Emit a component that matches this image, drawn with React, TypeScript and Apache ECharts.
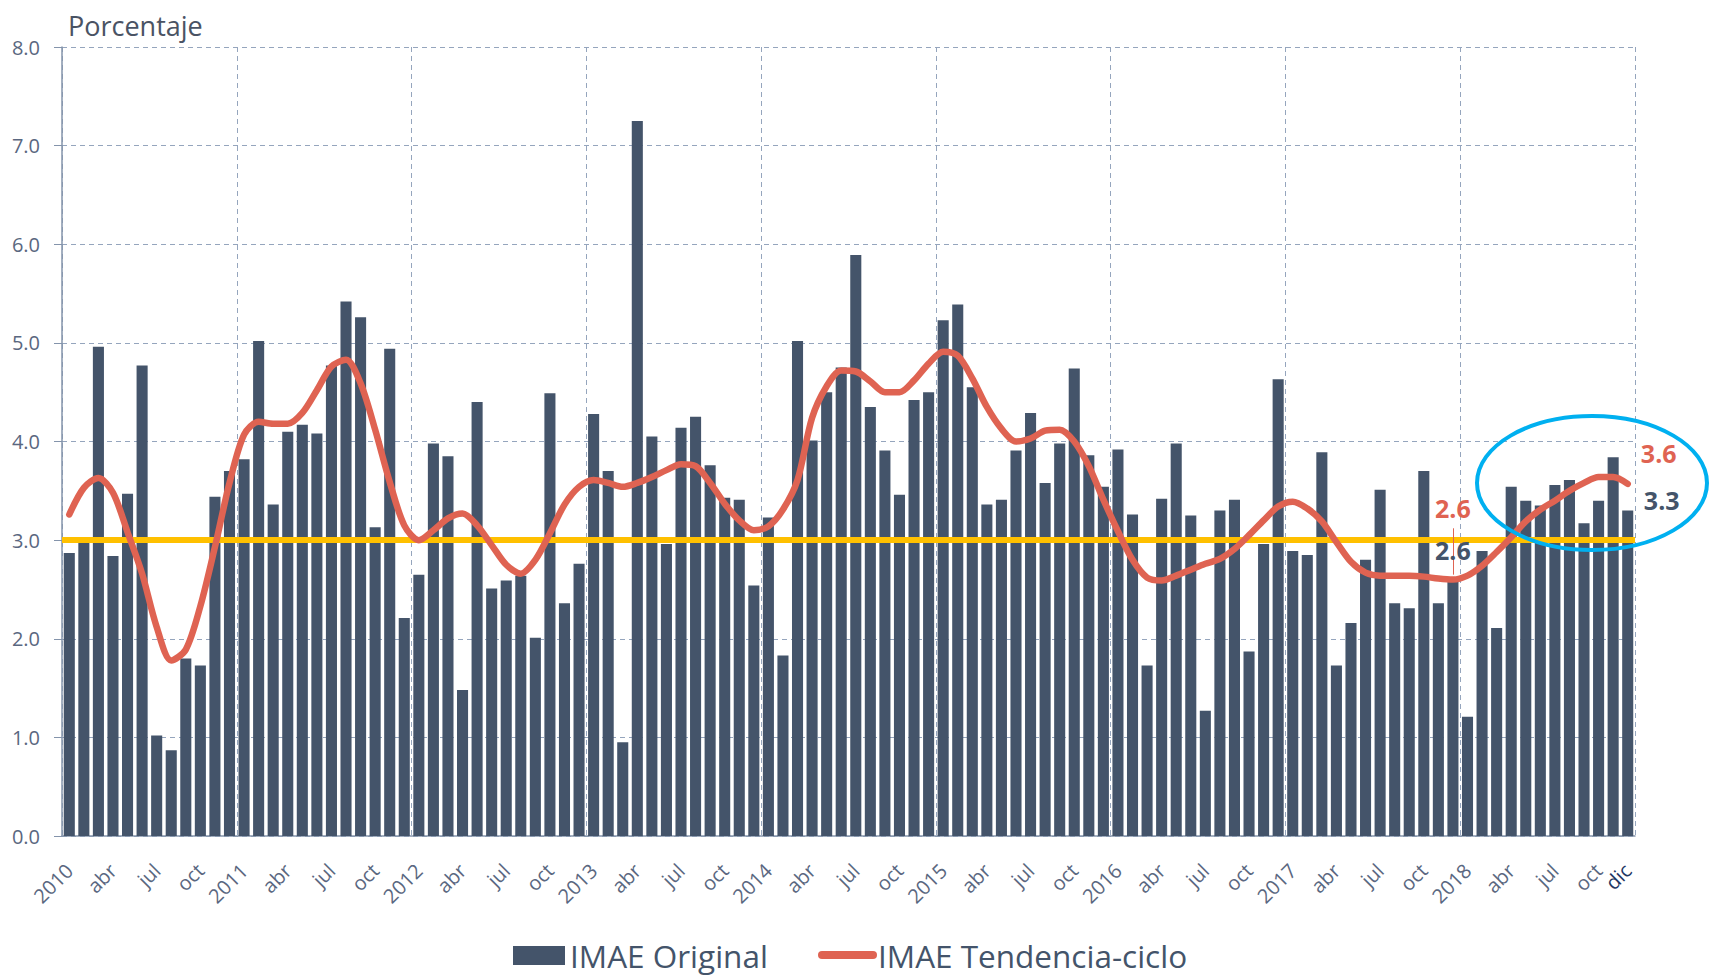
import React, { useEffect, useRef } from 'react';
import * as echarts from 'echarts';

const years = [2010, 2011, 2012, 2013, 2014, 2015, 2016, 2017, 2018];
const monthAbbr = ['ene', 'feb', 'mar', 'abr', 'may', 'jun', 'jul', 'ago', 'sep', 'oct', 'nov', 'dic'];

// IMAE Original (variación interanual, %)
const imaeOriginal = [
  2.87, 3.02, 4.96, 2.84, 3.47, 4.77, 1.02, 0.87, 1.80, 1.73, 3.44, 3.70,
  3.82, 5.02, 3.36, 4.10, 4.17, 4.08, 4.77, 5.42, 5.26, 3.13, 4.94, 2.21,
  2.65, 3.98, 3.85, 1.48, 4.40, 2.51, 2.59, 2.64, 2.01, 4.49, 2.36, 2.76,
  4.28, 3.70, 0.95, 7.25, 4.05, 2.96, 4.14, 4.25, 3.76, 3.43, 3.41, 2.54,
  3.23, 1.83, 5.02, 4.01, 4.50, 4.75, 5.89, 4.35, 3.91, 3.46, 4.42, 4.50,
  5.23, 5.39, 4.55, 3.36, 3.41, 3.91, 4.29, 3.58, 3.98, 4.74, 3.86, 3.54,
  3.92, 3.26, 1.73, 3.42, 3.98, 3.25, 1.27, 3.30, 3.41, 1.87, 2.96, 4.63,
  2.89, 2.85, 3.89, 1.73, 2.16, 2.80, 3.51, 2.36, 2.31, 3.70, 2.36, 2.60,
  1.21, 2.89, 2.11, 3.54, 3.40, 3.35, 3.56, 3.61, 3.17, 3.40, 3.84, 3.30,
];

// IMAE Tendencia-ciclo (%)
const imaeTendencia = [
  3.26, 3.53, 3.63, 3.48, 3.08, 2.66, 2.12, 1.78, 1.89, 2.33, 2.93, 3.58,
  4.07, 4.20, 4.18, 4.18, 4.29, 4.52, 4.76, 4.83, 4.59, 4.12, 3.59, 3.15,
  3.00, 3.10, 3.22, 3.27, 3.15, 2.95, 2.75, 2.66, 2.80, 3.07, 3.36, 3.54,
  3.61, 3.58, 3.54, 3.58, 3.64, 3.71, 3.77, 3.75, 3.58, 3.37, 3.20, 3.10,
  3.14, 3.31, 3.61, 4.24, 4.56, 4.72, 4.71, 4.61, 4.50, 4.50, 4.62, 4.79,
  4.91, 4.87, 4.64, 4.35, 4.13, 4.00, 4.03, 4.11, 4.12, 4.00, 3.75, 3.41,
  3.09, 2.80, 2.62, 2.59, 2.64, 2.70, 2.76, 2.81, 2.91, 3.05, 3.20, 3.34,
  3.39, 3.32, 3.19, 2.98, 2.78, 2.67, 2.64, 2.64, 2.64, 2.63, 2.61, 2.60,
  2.64, 2.74, 2.88, 3.03, 3.19, 3.31, 3.40, 3.50, 3.58, 3.64, 3.64, 3.57,
];

const referenceLevel = [3.0];

const categories = years.flatMap((y) => monthAbbr.map((_, m) => `${y}-${String(m + 1).padStart(2, '0')}`));
const lastIdx = categories.length - 1;
const annotIdx = 95; // dic 2017

const FONT = "'Open Sans', 'Noto Sans', sans-serif";
const BAR = '#44546a';
const RED = '#df6352';
const AXIS = '#8494ab';
const GRIDC = '#95a5bd';
const LABEL = '#5a6780';

const catLabel = (v: string) => {
  const [y, m] = v.split('-');
  const mi = parseInt(m, 10) - 1;
  return mi === 0 ? y : monthAbbr[mi];
};

const option: any = {
  animation: false,
  backgroundColor: '#ffffff',
  textStyle: { fontFamily: FONT },
  grid: { left: 62, right: 75, top: 47, bottom: 144, containLabel: false },
  xAxis: [
    {
      type: 'category',
      data: categories,
      boundaryGap: true,
      axisLine: { lineStyle: { color: AXIS, width: 1.5 } },
      axisTick: { show: false },
      splitLine: { show: false },
      axisLabel: {
        interval: (i: number) => i % 3 === 0 || i === lastIdx,
        rotate: 45,
        margin: 31,
        color: LABEL,
        fontSize: 20,
        fontFamily: FONT,
        formatter: (v: string, i: number) => (i === lastIdx ? `{d|${catLabel(v)}}` : catLabel(v)),
        rich: { d: { color: '#1f3864', fontSize: 20, fontFamily: FONT } },
      },
    },
    {
      type: 'value',
      min: 0,
      max: categories.length,
      interval: 12,
      position: 'bottom',
      axisLine: { show: false },
      axisTick: { show: false },
      axisLabel: { show: false },
      splitLine: { show: true, lineStyle: { type: [5, 4], color: GRIDC, width: 1 } },
    },
  ],
  yAxis: {
    type: 'value',
    min: 0,
    max: 8,
    interval: 1,
    axisLine: { show: true, lineStyle: { color: AXIS, width: 1.5 } },
    axisTick: { show: true, length: 8, lineStyle: { color: AXIS } },
    axisLabel: { formatter: (v: number) => v.toFixed(1), color: LABEL, fontSize: 20, margin: 22, fontFamily: FONT },
    splitLine: { show: true, lineStyle: { type: [5, 4], color: GRIDC, width: 1 } },
  },
  series: [
    {
      type: 'bar',
      name: 'IMAE Original',
      data: imaeOriginal,
      xAxisIndex: 0,
      barCategoryGap: '24%',
      itemStyle: { color: BAR },
      z: 2,
      markLine: {
        silent: true,
        symbol: 'none',
        z: 3,
        label: { show: false },
        lineStyle: { color: '#ffc000', width: 6, type: 'solid' },
        data: referenceLevel.map((v) => ({ yAxis: v })),
      },
      markPoint: {
        symbol: 'circle',
        symbolSize: 0,
        z: 20,
        data: [
          {
            coord: [annotIdx, imaeOriginal[annotIdx]],
            value: imaeOriginal[annotIdx].toFixed(1),
            label: { show: true, formatter: (p: any) => p.value, color: BAR, fontSize: 25, fontWeight: 'bold', fontFamily: FONT, offset: [0, -30] },
          },
          {
            coord: [lastIdx, imaeOriginal[lastIdx]],
            value: imaeOriginal[lastIdx].toFixed(1),
            label: { show: true, formatter: (p: any) => p.value, color: BAR, fontSize: 25, fontWeight: 'bold', fontFamily: FONT, offset: [34, -11] },
          },
        ],
      },
    },
    {
      type: 'line',
      name: 'IMAE Tendencia-ciclo',
      data: imaeTendencia,
      xAxisIndex: 0,
      smooth: 0.3,
      symbol: 'none',
      showSymbol: false,
      lineStyle: { color: RED, width: 6.5, cap: 'round', join: 'round' },
      itemStyle: { color: RED },
      z: 10,
      markLine: {
        silent: true,
        symbol: 'none',
        z: 11,
        label: { show: false },
        lineStyle: { color: RED, width: 1, type: 'solid' },
        data: [[
          { coord: [annotIdx, imaeTendencia[annotIdx] + 0.05] },
          { coord: [annotIdx, imaeTendencia[annotIdx] + 0.52] },
        ]],
      },
      markPoint: {
        symbol: 'circle',
        symbolSize: 0,
        z: 20,
        data: [
          {
            coord: [annotIdx, imaeTendencia[annotIdx]],
            value: imaeTendencia[annotIdx].toFixed(1),
            label: { show: true, formatter: (p: any) => p.value, color: RED, fontSize: 25, fontWeight: 'bold', fontFamily: FONT, offset: [0, -72] },
          },
          {
            coord: [lastIdx, imaeTendencia[lastIdx]],
            value: imaeTendencia[lastIdx].toFixed(1),
            label: { show: true, formatter: (p: any) => p.value, color: RED, fontSize: 25, fontWeight: 'bold', fontFamily: FONT, offset: [31, -31] },
          },
        ],
      },
    },
  ],
  graphic: [
    {
      type: 'text',
      x: 68,
      y: 25,
      style: { text: 'Porcentaje', fill: '#4a5364', fontSize: 27, fontFamily: FONT, align: 'left', verticalAlign: 'middle' },
    },
    {
      type: 'ellipse',
      shape: { cx: 1592, cy: 483, rx: 115, ry: 67 },
      style: { fill: 'none', stroke: '#00b0f0', lineWidth: 4 },
      z: 100,
    },
    {
      type: 'rect',
      shape: { x: 513, y: 946, width: 52, height: 19 },
      style: { fill: BAR },
    },
    {
      type: 'text',
      x: 570,
      y: 955,
      style: { text: 'IMAE Original', fill: BAR, fontSize: 31.5, fontFamily: FONT, align: 'left', verticalAlign: 'middle' },
    },
    {
      type: 'line',
      shape: { x1: 822, y1: 955, x2: 873, y2: 955 },
      style: { stroke: RED, lineWidth: 8, lineCap: 'round' },
    },
    {
      type: 'text',
      x: 878,
      y: 955,
      style: { text: 'IMAE Tendencia-ciclo', fill: BAR, fontSize: 31.5, fontFamily: FONT, align: 'left', verticalAlign: 'middle' },
    },
  ],
};

export default function App() {
  const ref = useRef<HTMLDivElement>(null);
  useEffect(() => {
    if (!ref.current) return;
    const chart = echarts.init(ref.current, null, { renderer: 'svg' });
    chart.setOption(option);
    return () => chart.dispose();
  }, []);
  return (
    <div
      ref={ref}
      style={{ position: 'absolute', left: 0, top: 0, width: 1710, height: 980, background: '#ffffff' }}
    />
  );
}
